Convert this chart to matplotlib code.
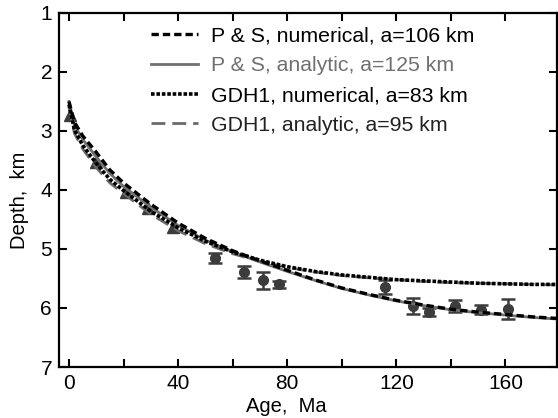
import matplotlib
matplotlib.use("Agg")
import matplotlib.pyplot as plt
import numpy as np

plt.rcParams['font.family'] = ['Liberation Sans', 'DejaVu Sans']

# Model curves
ps_num_age = [0, 2, 5, 10, 15, 20, 30, 40, 50, 60, 70, 80, 90, 100, 110, 120, 130, 140, 150, 160, 170, 180]
ps_num_dep = [2.50, 2.85, 3.08, 3.36, 3.66, 3.88, 4.24, 4.56, 4.82, 5.03, 5.20, 5.36, 5.52, 5.66, 5.77, 5.87, 5.95, 6.02, 6.07, 6.11, 6.15, 6.18]

ps_ana_age = [0, 2, 5, 10, 15, 20, 30, 40, 50, 60, 70, 80, 90, 100, 110, 120, 130, 140, 150, 160, 170, 180]
ps_ana_dep = [2.50, 2.90, 3.14, 3.44, 3.72, 3.94, 4.29, 4.60, 4.85, 5.05, 5.22, 5.38, 5.53, 5.67, 5.78, 5.88, 5.96, 6.03, 6.08, 6.12, 6.16, 6.19]

gdh_num_age = [0, 2, 5, 10, 15, 20, 30, 40, 50, 60, 70, 80, 90, 100, 110, 120, 130, 140, 150, 160, 170, 180]
gdh_num_dep = [2.55, 2.98, 3.24, 3.55, 3.82, 4.01, 4.36, 4.64, 4.87, 5.05, 5.19, 5.30, 5.38, 5.44, 5.48, 5.52, 5.54, 5.56, 5.58, 5.59, 5.60, 5.60]

gdh_ana_age = [0, 2, 5, 10, 15, 20, 30, 40, 50, 60, 70, 80, 90, 100, 110, 120, 130, 140, 150, 160, 170, 180]
gdh_ana_dep = [2.60, 3.04, 3.30, 3.62, 3.88, 4.06, 4.41, 4.69, 4.91, 5.08, 5.21, 5.31, 5.39, 5.45, 5.49, 5.52, 5.55, 5.57, 5.58, 5.59, 5.60, 5.61]

# Observations
tri_age = [0.4, 10, 21, 29, 38]
tri_dep = [2.73, 3.53, 4.03, 4.30, 4.63]

obs_age = [53.4, 64, 71, 77, 116, 126, 131.8, 141.6, 151, 161]
obs_dep = [5.15, 5.39, 5.53, 5.60, 5.65, 5.97, 6.07, 5.97, 6.03, 6.02]
obs_err = [0.09, 0.10, 0.14, 0.06, 0.12, 0.14, 0.07, 0.10, 0.08, 0.17]

labels = ["P & S, numerical, a=106 km", "P & S, analytic, a=125 km",
          "GDH1, numerical, a=83 km", "GDH1, analytic, a=95 km"]

fig = plt.figure(figsize=(5.58, 4.18), dpi=100)
ax = fig.add_axes([0.1057, 0.122, 0.893, 0.847])

dark = '#3c3c3c'
ax.errorbar(obs_age, obs_dep, yerr=obs_err, fmt='o', color=dark, ms=7,
            capsize=5, elinewidth=1.8, capthick=1.8, zorder=2)
ax.plot(tri_age, tri_dep, '^', color=dark, ms=8, zorder=2, linestyle='none')

l1, = ax.plot(ps_num_age, ps_num_dep, color='black', lw=2.4, ls=(0, (2.2, 1.2)), zorder=4)
l2, = ax.plot(ps_ana_age, ps_ana_dep, color='#707070', lw=2.0, ls='-', zorder=3)
l3, = ax.plot(gdh_num_age, gdh_num_dep, color='black', lw=2.6, ls=(0, (1, 0.5)), zorder=4)
l4, = ax.plot(gdh_ana_age, gdh_ana_dep, color='#6a6a6a', lw=2.0, ls=(0, (5, 2.5)), zorder=3)

leg = ax.legend([l1, l2, l3, l4], labels, loc='upper left', bbox_to_anchor=(0.16, 0.997),
                frameon=False, fontsize=15.3, handlelength=2.2, handletextpad=0.6,
                labelspacing=0.5, borderaxespad=0.2)
for t, c in zip(leg.get_texts(), ['black', '#707070', 'black', '#222222']):
    t.set_color(c)

ax.set_xlim(-3.66, 179)
ax.set_ylim(7, 1)
ax.set_xticks(np.arange(0, 180, 20))
ax.set_xticklabels(['0', '', '40', '', '80', '', '120', '', '160'])
ax.set_yticks([1, 2, 3, 4, 5, 6, 7])
ax.tick_params(direction='in', length=6, width=1.5, top=True, right=True,
               labelsize=15, pad=5, colors='black')
for s in ax.spines.values():
    s.set_linewidth(1.6)
ax.set_xlabel('Age,  Ma', fontsize=14.5)
ax.set_ylabel('Depth,  km', fontsize=14.5)
ax.xaxis.set_label_coords(0.456, -0.085)
ax.yaxis.set_label_coords(-0.06, 0.472)

fig.savefig('out.png', dpi=100)
